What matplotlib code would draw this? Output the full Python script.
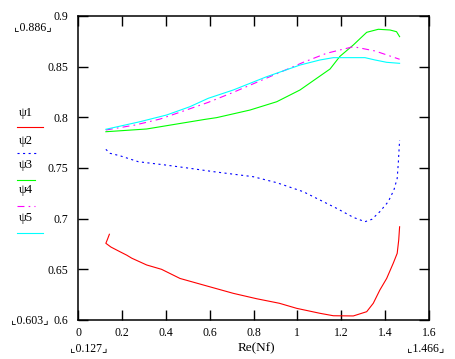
import matplotlib
matplotlib.use("Agg")
import matplotlib.pyplot as plt
from matplotlib.lines import Line2D

plt.rcParams['font.family'] = ['Liberation Serif', 'DejaVu Serif', 'DejaVu Sans']
plt.rcParams['lines.scale_dashes'] = False

# data (Re(Nf) on x)
x1 = [0.143, 0.135, 0.127, 0.150, 0.191, 0.222, 0.245, 0.313, 0.381, 0.465, 0.587,
      0.708, 0.814, 0.918, 0.997, 1.103, 1.164, 1.255, 1.316, 1.346, 1.376, 1.407,
      1.437, 1.455, 1.462, 1.466]
psi1 = [0.6846, 0.680, 0.6757, 0.672, 0.6674, 0.664, 0.661, 0.6543, 0.650, 0.641, 0.6336,
        0.6263, 0.621, 0.6165, 0.6115, 0.6066, 0.6042, 0.604, 0.6082, 0.6165, 0.6296, 0.641,
        0.656, 0.6658, 0.679, 0.692]

x2 = [0.127, 0.146, 0.191, 0.275, 0.397, 0.510, 0.617, 0.799, 0.906, 1.027, 1.103,
      1.179, 1.255, 1.308, 1.339, 1.376, 1.414, 1.440, 1.455, 1.460, 1.466]
psi2 = [0.7684, 0.7645, 0.7621, 0.7562, 0.753, 0.7497, 0.7464, 0.7414, 0.7355, 0.7266, 0.7184,
        0.7102, 0.7013, 0.697, 0.6993, 0.7069, 0.7167, 0.7283, 0.7398, 0.7546, 0.7776]

x3 = [0.127, 0.176, 0.313, 0.450, 0.579, 0.632, 0.784, 0.906, 1.012, 1.088, 1.149,
      1.194, 1.255, 1.316, 1.369, 1.422, 1.452, 1.466]
psi3 = [0.7858, 0.7865, 0.7885, 0.7934, 0.798, 0.7997, 0.8072, 0.8154, 0.827, 0.8385, 0.8477,
        0.8602, 0.8714, 0.8839, 0.8869, 0.8862, 0.8845, 0.8796]

x4 = [0.127, 0.260, 0.374, 0.480, 0.594, 0.708, 0.814, 0.921, 1.027, 1.133, 1.255,
      1.354, 1.466]
psi4 = [0.7875, 0.7924, 0.7983, 0.8062, 0.8148, 0.8247, 0.8345, 0.8444, 0.8543, 0.8632, 0.8697,
        0.8655, 0.8573]

x5 = [0.127, 0.283, 0.404, 0.510, 0.594, 0.708, 0.860, 1.012, 1.103, 1.164, 1.308,
      1.354, 1.407, 1.466]
psi5 = [0.7882, 0.7957, 0.8023, 0.8105, 0.8188, 0.827, 0.8401, 0.8516, 0.8566, 0.8589, 0.8589,
        0.8566, 0.8543, 0.8533]

xticks = [0, 0.2, 0.4, 0.6, 0.8, 1, 1.2, 1.4, 1.6]
yticks = [0.6, 0.65, 0.7, 0.75, 0.8, 0.85, 0.9]

names = ["\u03c81", "\u03c82", "\u03c83", "\u03c84", "\u03c85"]
colors = ["#ff0000", "#0000ff", "#00ff00", "#ff00ff", "#00ffff"]
styles = ["-", (0, (1.5, 2.5)), "-", (0, (5, 3, 1.2, 3)), "-"]

W, H = 455, 359
fig = plt.figure(figsize=(W / 100, H / 100), dpi=100)
ax = fig.add_axes([78 / W, 1 - 320 / H, 351 / W, 304 / H])

series = [(x1, psi1), (x2, psi2), (x3, psi3), (x4, psi4), (x5, psi5)]
for (xs, ys), c, ls in zip(series, colors, styles):
    ax.plot(xs, ys, color=c, linestyle=ls, linewidth=0.8)

ax.set_xlim(0, 1.6)
ax.set_ylim(0.6, 0.9)
ax.set_xticks(xticks)
ax.set_yticks(yticks)
ax.set_xticklabels([("%g" % v) for v in xticks])
ax.set_yticklabels([("%g" % v) for v in yticks])
ax.tick_params(direction='in', length=7, width=1, top=True, right=True,
               labelsize=8.5, colors='black')
ax.tick_params(axis='y', pad=7)
ax.tick_params(axis='x', pad=5)
for s in ax.spines.values():
    s.set_linewidth(1.1)

# legend stacked on the left: name above line sample
leg_text_y = [113, 141, 165, 190, 218]
leg_line_y = [126.5, 153, 180, 206, 232.5]
leg_len = [26, 21, 18, 18, 26]
for n, c, ls, ty, ly, ln in zip(names, colors, styles, leg_text_y, leg_line_y, leg_len):
    fig.text(19 / W, 1 - ty / H, n, fontsize=9, va='center', ha='left')
    fig.add_artist(Line2D([17 / W, (17 + ln) / W], [1 - ly / H, 1 - ly / H],
                          color=c, linestyle=ls, linewidth=0.8))

# Mathcad-style range annotations
fs = 8.5
fig.text(33 / W, 1 - 27 / H, "\u231e0.886\u231f", fontsize=fs, ha='center', va='center')
fig.text(30 / W, 1 - 320 / H, "\u231e0.603\u231f", fontsize=fs, ha='center', va='center')
fig.text(89 / W, 1 - 348 / H, "\u231e0.127\u231f", fontsize=fs, ha='center', va='center')
fig.text(426 / W, 1 - 348 / H, "\u231e1.466\u231f", fontsize=fs, ha='center', va='center')
fig.text(256 / W, 1 - 348 / H, "Re(Nf)", fontsize=9.5, ha='center', va='center')

fig.savefig("out.png", dpi=100)
